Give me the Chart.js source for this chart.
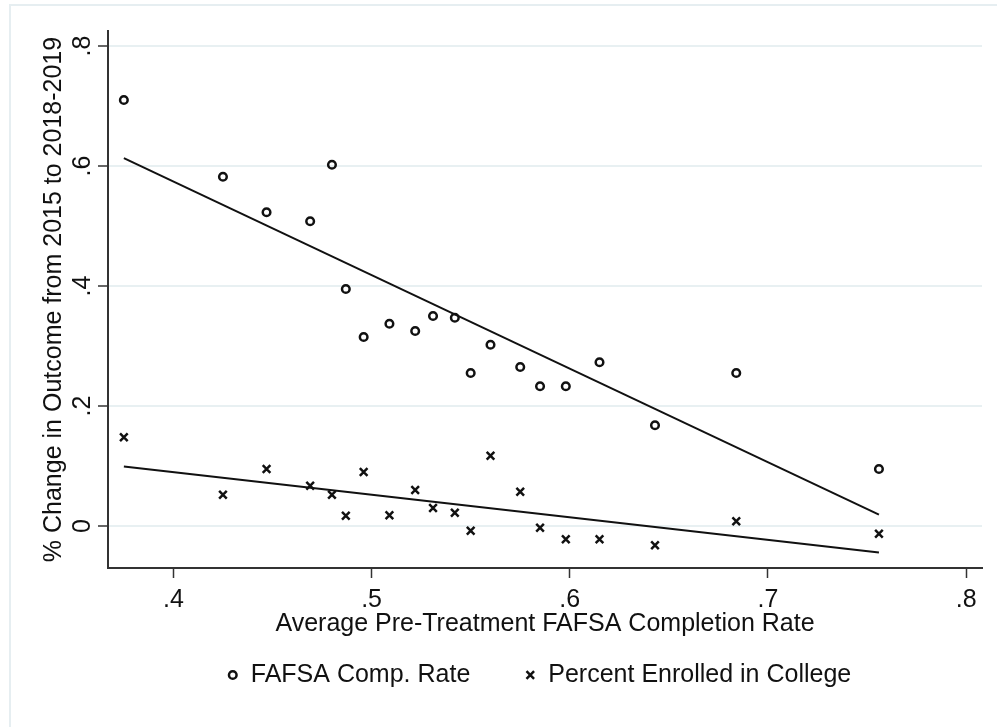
<!DOCTYPE html>
<html>
<head>
<meta charset="utf-8">
<script src="https://cdn.jsdelivr.net/npm/chart.js@4"></script>
<style>
  html, body { margin: 0; padding: 0; background: #fff; }
  #wrap { width: 997px; height: 727px; position: relative; }
</style>
</head>
<body>
<div id="wrap"><canvas id="chart"></canvas></div>
<script>
// average pre-treatment FAFSA completion rate (x)
const rateX = [0.375, 0.425, 0.447, 0.469, 0.480, 0.487, 0.496, 0.509, 0.522, 0.531,
               0.542, 0.550, 0.560, 0.575, 0.585, 0.598, 0.615, 0.643, 0.684, 0.756];
// % change in FAFSA completion
const fafsaChange = [0.710, 0.582, 0.523, 0.508, 0.602, 0.395, 0.315, 0.337, 0.325, 0.350,
                     0.347, 0.255, 0.302, 0.265, 0.233, 0.233, 0.273, 0.168, 0.255, 0.095];
// % change in percent enrolled in college
const enrollChange = [0.148, 0.052, 0.095, 0.067, 0.052, 0.017, 0.090, 0.018, 0.060, 0.030,
                      0.022, -0.008, 0.117, 0.057, -0.003, -0.022, -0.022, -0.032, 0.008, -0.013];
// fitted lines, read at both ends
const fitX = [0.375, 0.756];
const fafsaFit = [0.613, 0.019];
const enrollFit = [0.099, -0.044];

const xTicks = [0.4, 0.5, 0.6, 0.7, 0.8];
const yTicks = [0, 0.2, 0.4, 0.6, 0.8];

const FONT = "Arial, 'Liberation Sans', sans-serif";
const FSIZE = 25;
const GRID = '#e8f0f2';
const INK = '#111';

function pts(xs, ys) {
  return xs.map(function (x, i) { return { x: x, y: ys[i] }; });
}
function fmt(v) {
  if (v === 0) return '0';
  return v.toFixed(1).replace(/^0/, '').replace(/^-0/, '-');
}

// light outer frame + white background
const framePlugin = {
  id: 'frame',
  beforeDraw: function (chart) {
    const ctx = chart.ctx;
    ctx.save();
    ctx.fillStyle = '#fff';
    ctx.fillRect(0, 0, chart.width, chart.height);
    ctx.strokeStyle = '#e6eef1';
    ctx.lineWidth = 2;
    ctx.beginPath();
    ctx.moveTo(10, chart.height);
    ctx.lineTo(10, 5);
    ctx.lineTo(chart.width, 5);
    ctx.stroke();
    ctx.restore();
  }
};

// stata-like key below the axis title
const keyPlugin = {
  id: 'key',
  afterDraw: function (chart) {
    const ctx = chart.ctx;
    const sets = chart.data.datasets.slice(0, 2);
    const y = 675;
    const mark = 8, gap = 14, between = 56;
    ctx.save();
    ctx.font = FSIZE + 'px ' + FONT;
    ctx.textBaseline = 'middle';
    ctx.fillStyle = INK;
    const widths = sets.map(function (d) { return ctx.measureText(d.label).width; });
    let total = 0;
    widths.forEach(function (w, i) { total += mark + gap + w + (i ? between : 0); });
    const ca = chart.chartArea;
    let x = (ca.left + ca.right) / 2 - 5 - total / 2;
    sets.forEach(function (d, i) {
      const cx = x + mark / 2;
      ctx.strokeStyle = INK;
      ctx.lineWidth = 2.5;
      ctx.beginPath();
      if (d.pointStyle === 'circle') {
        ctx.arc(cx, y, 3.8, 0, Math.PI * 2);
      } else {
        ctx.moveTo(cx - 3.8, y - 3.8); ctx.lineTo(cx + 3.8, y + 3.8);
        ctx.moveTo(cx + 3.8, y - 3.8); ctx.lineTo(cx - 3.8, y + 3.8);
      }
      ctx.stroke();
      ctx.fillText(d.label, x + mark + gap, y);
      x += mark + gap + widths[i] + between;
    });
    ctx.restore();
  }
};

new Chart(document.getElementById('chart'), {
  type: 'scatter',
  data: {
    datasets: [
      {
        label: 'FAFSA Comp. Rate',
        data: pts(rateX, fafsaChange),
        pointStyle: 'circle',
        pointRadius: 3.8,
        borderColor: INK,
        backgroundColor: 'rgba(0,0,0,0)',
        borderWidth: 2.5
      },
      {
        label: 'Percent Enrolled in College',
        data: pts(rateX, enrollChange),
        pointStyle: 'crossRot',
        pointRadius: 5.4,
        borderColor: INK,
        backgroundColor: INK,
        borderWidth: 2.5
      },
      {
        label: 'fit1',
        data: pts(fitX, fafsaFit),
        showLine: true,
        pointRadius: 0,
        borderColor: INK,
        borderWidth: 2
      },
      {
        label: 'fit2',
        data: pts(fitX, enrollFit),
        showLine: true,
        pointRadius: 0,
        borderColor: INK,
        borderWidth: 2
      }
    ]
  },
  options: {
    responsive: true,
    maintainAspectRatio: false,
    animation: false,
    layout: { padding: { left: 30, right: 15, top: 31, bottom: 79 } },
    plugins: {
      tooltip: { enabled: false },
      legend: { display: false }
    },
    scales: {
      x: {
        type: 'linear',
        min: 0.367,
        max: 0.808,
        afterBuildTicks: function (s) { s.ticks = xTicks.map(function (v) { return { value: v }; }); },
        afterFit: function (s) { s.height = 80; },
        border: { color: '#333', width: 2 },
        grid: { drawOnChartArea: false, drawTicks: true, tickLength: 10, tickColor: '#333', tickWidth: 1.5 },
        ticks: {
          color: INK, padding: 7,
          font: { family: FONT, size: FSIZE },
          maxRotation: 0,
          callback: function (v) { return fmt(v); }
        },
        title: {
          display: true,
          text: 'Average Pre-Treatment FAFSA Completion Rate',
          color: INK,
          font: { family: FONT, size: FSIZE },
          padding: { top: 0, bottom: 9 }
        }
      },
      y: {
        type: 'linear',
        min: -0.07,
        max: 0.825,
        afterBuildTicks: function (s) { s.ticks = yTicks.map(function (v) { return { value: v }; }); },
        afterFit: function (s) { s.width = 78; },
        border: { color: '#333', width: 2 },
        grid: { color: GRID, lineWidth: 2, drawTicks: true, tickLength: 10, tickColor: '#333', tickWidth: 1.5 },
        ticks: {
          color: INK, padding: 4,
          font: { family: FONT, size: FSIZE },
          minRotation: 90, maxRotation: 90,
          crossAlign: 'center',
          callback: function (v) { return fmt(v); }
        },
        title: {
          display: true,
          text: '% Change in Outcome from 2015 to 2018-2019',
          color: INK,
          font: { family: FONT, size: FSIZE },
          padding: { top: 9, bottom: 0 }
        }
      }
    }
  },
  plugins: [framePlugin, keyPlugin]
});
</script>
</body>
</html>
